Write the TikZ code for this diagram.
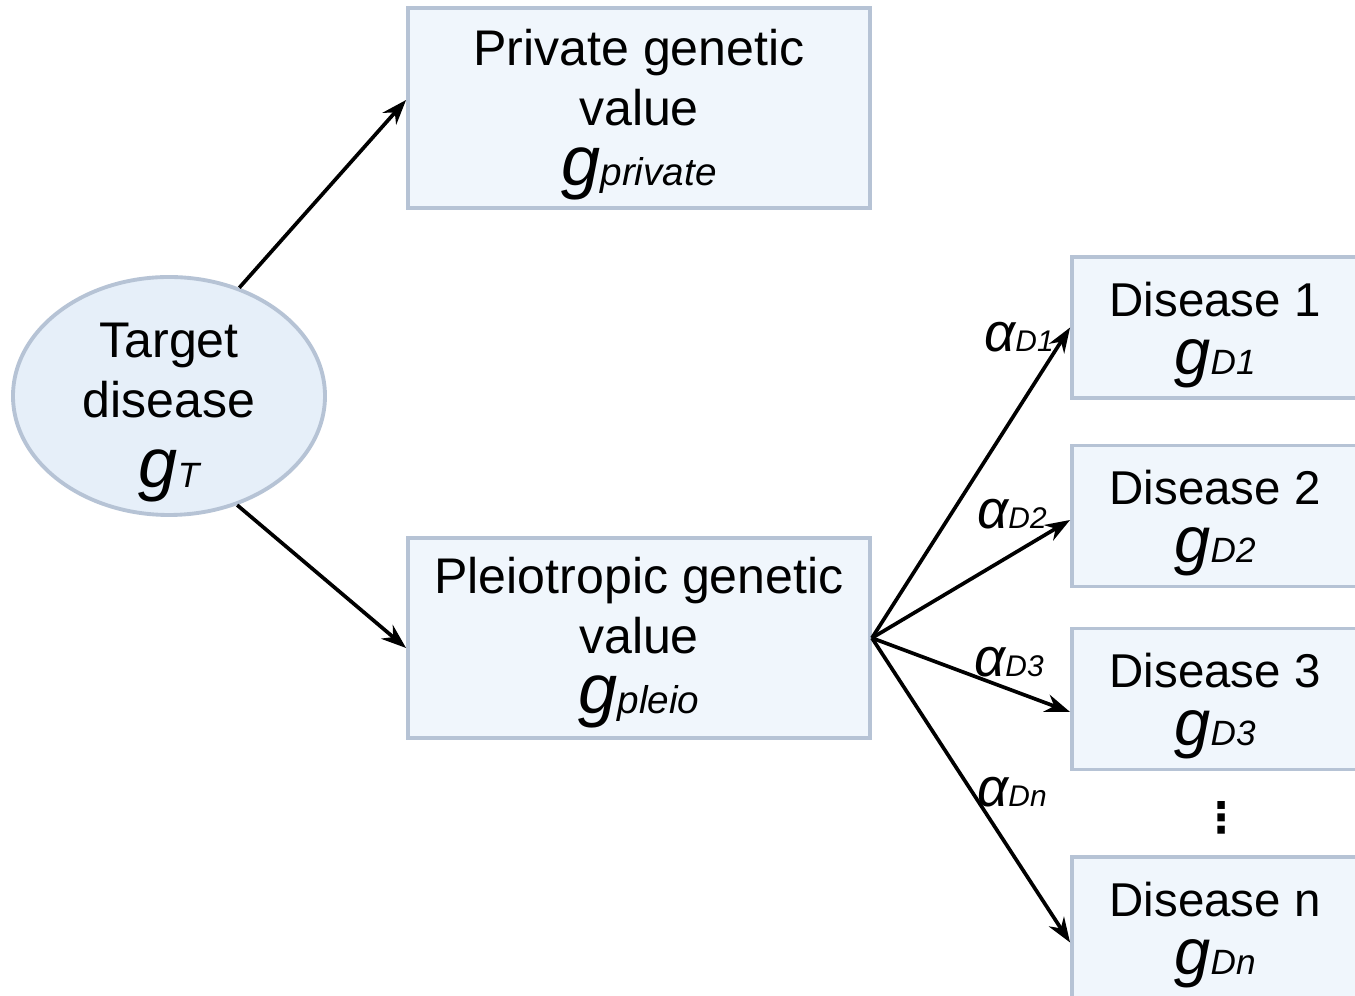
\documentclass[tikz,border=0pt]{standalone}
\usepackage{fontspec}
\setmainfont{Liberation Sans}
\newfontfamily\dotsfont{DejaVu Sans}
\usetikzlibrary{arrows.meta,positioning,shapes.geometric}

\definecolor{boxfill}{RGB}{240,246,252}
\definecolor{ellfill}{RGB}{230,239,249}
\definecolor{boxline}{RGB}{182,195,213}

% italic symbol with an italic index
\newcommand{\gvar}[4]{{\fontsize{#1}{#1}\selectfont\itshape #2}{\fontsize{#3}{#3}\selectfont\itshape #4}}

\begin{document}
\begin{tikzpicture}[
  font=\fontsize{28.5}{34}\selectfont,
  >={Stealth[length=5mm,width=3.6mm]},
  box/.style={draw=boxline, line width=2.2pt, fill=boxfill, align=center, minimum width=9.24cm, minimum height=4cm, inner sep=0pt},
  dbox/.style={box, minimum width=5.72cm, minimum height=2.82cm, font=\fontsize{27}{33}\selectfont},
  oval/.style={ellipse, draw=boxline, line width=2.2pt, fill=ellfill, align=center, minimum width=6.24cm, minimum height=4.76cm, inner xsep=0pt, inner ysep=-1.2cm},
  arr/.style={->, line width=2.1pt},
  lab/.style={inner sep=0pt}
]
  \useasboundingbox (0,0) rectangle (27.1,19.92);

  \node[oval] (target) at (3.38,12.0) {\rule{0pt}{39pt}Target\\disease\\[6pt]\gvar{40}{g}{20}{T}};
  \node[box] (private) at (12.78,17.76) {\rule{0pt}{28pt}Private genetic\\value\\\gvar{40}{g}{22}{private}};
  \node[box] (pleio) at (12.78,7.16) {\rule{0pt}{26pt}Pleiotropic genetic\\value\\\gvar{40}{g}{22}{pleio}};

  \node[dbox] (d1) at (24.3,13.37) {\rule{0pt}{28pt}Disease 1\\\gvar{37}{g}{20}{D1}};
  \node[dbox] (d2) at (24.3,9.6) {\rule{0pt}{28pt}Disease 2\\\gvar{37}{g}{20}{D2}};
  \node[dbox] (d3) at (24.3,5.94) {\rule{0pt}{28pt}Disease 3\\\gvar{37}{g}{20}{D3}};
  \node[dbox] (dn) at (24.3,1.37) {\rule{0pt}{28pt}Disease n\\\gvar{37}{g}{20}{Dn}};
  \node[lab] (dots) at (24.44,3.56) {\dotsfont\bfseries\fontsize{24}{24}\selectfont ⋮};

  \node[lab] (a1) at (20.38,13.18) {\gvar{31}{α}{17}{D1}};
  \node[lab] (a2) at (20.24,9.64) {\gvar{31}{α}{17}{D2}};
  \node[lab] (a3) at (20.18,6.68) {\gvar{31}{α}{17}{D3}};
  \node[lab] (an) at (20.24,4.08) {\gvar{31}{α}{17}{Dn}};

  \draw[arr] (target.57) -- ([yshift=1.6mm]private.west);
  \draw[arr] (target.-58) -- ([yshift=-2mm]pleio.west);
  \draw[arr] (pleio.east) -- (d1.west);
  \draw[arr] (pleio.east) -- ([yshift=-0.8mm]d2.west);
  \draw[arr] (pleio.east) -- ([yshift=-2.6mm]d3.west);
  \draw[arr] (pleio.east) -- ([yshift=-3mm]dn.west);
\end{tikzpicture}
\end{document}
